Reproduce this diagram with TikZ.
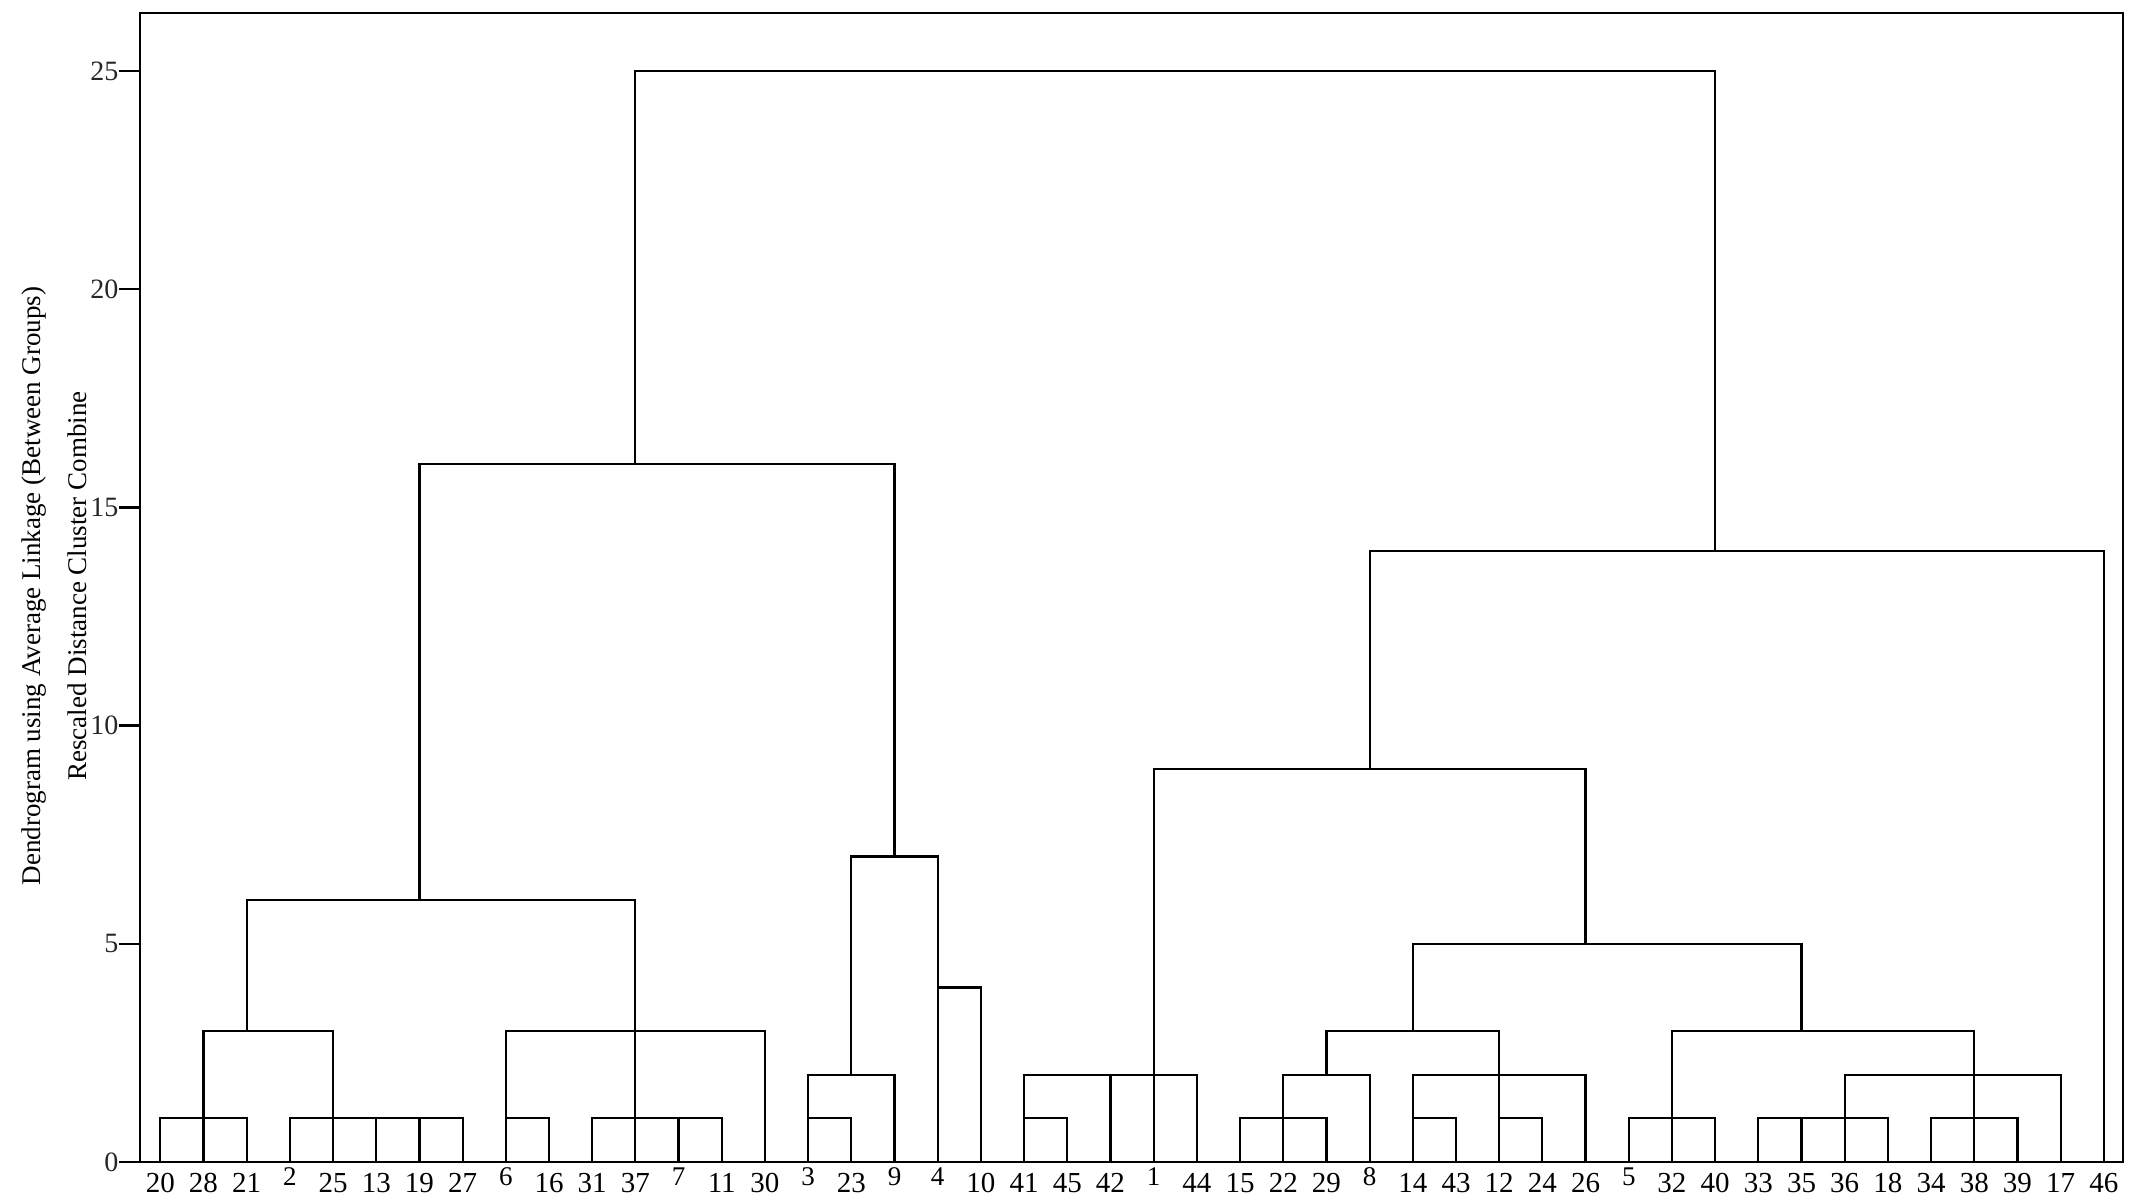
\documentclass[tikz,border=0pt]{standalone}
\usepackage{fontspec}
\setmainfont{Liberation Serif}
\begin{document}
\begin{tikzpicture}[
  dline/.style={line width=1.1pt, line cap=rect},
  frameline/.style={line width=1.2pt, line cap=rect},
  leaflab/.style={inner sep=0pt, anchor=north, font=\fontsize{14.5}{16}\selectfont},
  ticklab/.style={inner sep=0pt, anchor=east, font=\fontsize{14}{16}\selectfont, text=black!85},
  titlelab/.style={inner sep=0pt, rotate=90, font=\fontsize{13.5}{15}\selectfont}
]
\useasboundingbox (0,0) rectangle (1074pt,600pt);
\node[titlelab] (t1) at (17pt,307pt) {Dendrogram using Average Linkage (Between Groups)};
\node[titlelab] (t2) at (38.5pt,307pt) {Rescaled Distance Cluster Combine};
\begin{scope}[shift={(80.15pt,19pt)}, x=21.595pt, y=21.82pt]
  % frame and axis
  \draw[frameline] (-0.934,0) -- (45.44,0);
  \draw[frameline] (-0.47,0) -- (-0.47,26.33) -- (45.44,26.33) -- (45.44,0);
  \foreach \t in {0,5,10,15,20,25} {
    \draw[frameline] (-0.934,\t) -- (-0.47,\t);
    \node[ticklab] (tk\t) at (-0.96,\t) {\t};
  }
  % leaves
  \foreach \lab [count=\i from 0] in {20,28,21,2,25,13,19,27,6,16,31,37,7,11,30,3,23,9,4,10,41,45,42,1,44,15,22,29,8,14,43,12,24,26,5,32,40,33,35,36,18,34,38,39,17,46} {
    \coordinate (L\i) at (\i,0);
    \ifnum\lab<10
      \node[leaflab, yshift=-2.5pt, font=\fontsize{13.5}{15}\selectfont] (N\i) at (L\i) {\lab};
    \else
      \node[leaflab, yshift=-5.5pt] (N\i) at (L\i) {\lab};
    \fi
  }
  % vertical segments: x / from / to
  \foreach \x/\a/\b in {0/0/1, 1/0/3, 2/0/1, 2/3/6, 3/0/1, 4/0/3, 5/0/1, 6/0/1, 6/6/16, 7/0/1,
    8/0/3, 9/0/1, 10/0/1, 11/0/6, 11/16/25, 12/0/1, 13/0/1, 14/0/3, 15/0/2, 16/0/1, 16/2/7,
    17/0/2, 17/7/16, 18/0/7, 19/0/4, 20/0/2, 21/0/1, 22/0/2, 23/0/9, 24/0/2, 25/0/1, 26/0/2,
    27/0/1, 27/2/3, 28/0/2, 28/9/14, 29/0/2, 29/3/5, 30/0/1, 31/0/3, 32/0/1, 33/0/2, 33/5/9,
    34/0/1, 35/0/3, 36/0/1, 36/14/25, 37/0/1, 38/0/1, 38/3/5, 39/0/2, 40/0/1, 41/0/1, 42/0/3,
    43/0/1, 44/0/2, 45/0/14} {
    \draw[dline] (\x,\a) -- (\x,\b);
  }
  % horizontal segments: height / from / to
  \foreach \h/\p/\q in {1/0/2, 1/3/7, 1/8/9, 1/10/13, 1/15/16, 1/20/21, 1/25/27, 1/29/30,
    1/31/32, 1/34/36, 1/37/40, 1/41/43, 2/15/17, 2/20/24, 2/26/28, 2/29/33, 2/39/44,
    3/1/4, 3/8/14, 3/27/31, 3/35/42, 4/18/19, 5/29/38, 6/2/11, 7/16/18, 9/23/33,
    14/28/45, 16/6/17, 25/11/36} {
    \draw[dline] (\p,\h) -- (\q,\h);
  }
\end{scope}
\end{tikzpicture}
\end{document}
